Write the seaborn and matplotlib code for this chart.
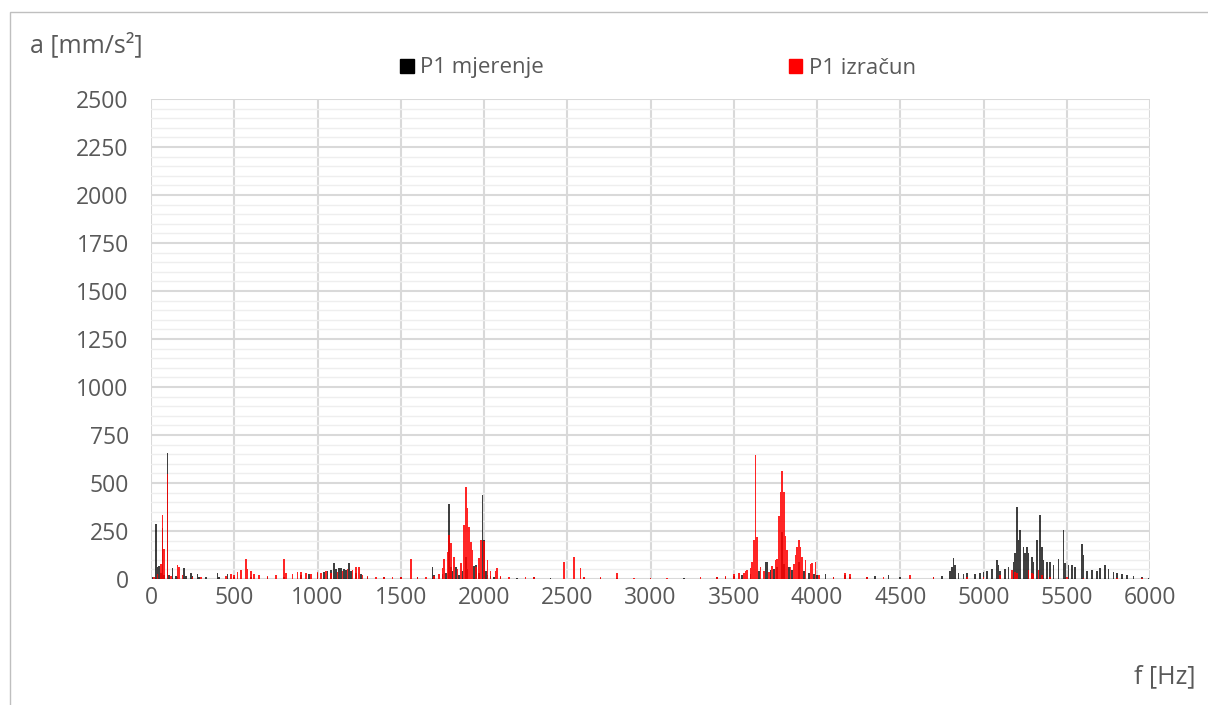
import numpy as np
import seaborn as sns
import matplotlib.pyplot as plt
from matplotlib.patches import Patch, Rectangle

# Frequency [Hz] and amplitude [mm/s2] (10 Hz bins)
freq_mjerenje = [10, 30, 40, 50, 60, 70, 80, 100, 110, 130, 150, 160, 200, 210, 240, 250, 280, 290, 330,
                 400, 410, 460, 500, 600, 700, 800, 900, 950, 1000, 1040, 1060, 1080, 1100, 1110, 1130,
                 1140, 1160, 1170, 1190, 1200, 1230, 1260, 1300, 1400, 1500, 1600, 1690, 1700, 1750,
                 1770, 1790, 1800, 1810, 1830, 1850, 1870, 1890, 1900, 1940, 1950, 1970, 1990, 2000,
                 2010, 2020, 2040, 2060, 2100, 2200, 2300, 2400, 2600, 2700, 2800, 3000, 3200, 3400,
                 3450, 3500, 3550, 3600, 3650, 3690, 3700, 3720, 3740, 3760, 3790, 3800, 3830, 3850,
                 3890, 3920, 3950, 3980, 4000, 4050, 4100, 4170, 4200, 4300, 4350, 4430, 4500, 4700,
                 4750, 4800, 4810, 4820, 4830, 4850, 4880, 4900, 4950, 4980, 5000, 5020, 5050, 5080,
                 5090, 5100, 5130, 5150, 5180, 5190, 5200, 5210, 5220, 5240, 5250, 5260, 5270, 5290,
                 5300, 5320, 5340, 5350, 5360, 5380, 5400, 5420, 5450, 5480, 5490, 5510, 5530, 5550,
                 5590, 5600, 5620, 5650, 5680, 5700, 5730, 5750, 5780, 5800, 5830, 5860, 5900, 5950, 5990]
amp_mjerenje = [10, 286, 60, 68, 30, 265, 20, 655, 20, 57, 15, 10, 55, 15, 33, 15, 26, 10, 8,
                33, 10, 27, 10, 8, 10, 12, 20, 25, 30, 35, 40, 45, 85, 50, 59,
                56, 50, 45, 85, 40, 30, 25, 12, 10, 8, 10, 64, 20, 25,
                30, 391, 60, 40, 60, 20, 40, 116, 50, 70, 73, 30, 439, 203,
                40, 20, 15, 10, 8, 6, 8, 6, 6, 5, 6, 5, 6, 8,
                10, 15, 20, 25, 40, 90, 90, 45, 50, 60, 246, 80, 64, 47,
                90, 40, 30, 25, 20, 26, 12, 20, 10, 12, 15, 20, 10, 8,
                15, 40, 64, 108, 73, 30, 25, 30, 25, 30, 35, 40, 50, 99,
                73, 40, 50, 60, 90, 134, 373, 203, 255, 168, 134, 165, 134, 116,
                90, 203, 333, 168, 99, 90, 90, 73, 103, 255, 82, 73, 73, 64,
                182, 125, 40, 45, 40, 55, 75, 50, 35, 30, 25, 20, 15, 10, 5]

freq_izracun = [20, 40, 60, 70, 80, 100, 120, 160, 170, 190, 250, 300, 450, 480, 500, 520, 540, 570,
                580, 600, 620, 650, 700, 750, 800, 810, 850, 880, 900, 930, 960, 1000, 1020, 1050,
                1080, 1120, 1150, 1180, 1210, 1230, 1250, 1270, 1300, 1350, 1400, 1450, 1500, 1560,
                1600, 1650, 1700, 1730, 1750, 1760, 1780, 1790, 1800, 1820, 1840, 1860, 1880, 1890,
                1900, 1910, 1920, 1930, 1950, 1970, 1980, 2000, 2020, 2040, 2070, 2080, 2100, 2150,
                2250, 2300, 2480, 2540, 2580, 2600, 2700, 2800, 2900, 3000, 3100, 3300, 3400, 3450,
                3500, 3530, 3560, 3570, 3580, 3600, 3610, 3620, 3630, 3640, 3660, 3680, 3710, 3730,
                3750, 3760, 3770, 3780, 3790, 3800, 3810, 3820, 3840, 3860, 3870, 3880, 3890, 3900,
                3910, 3930, 3960, 3970, 3990, 4010, 4100, 4170, 4200, 4300, 4400, 4560, 4700, 4900,
                5000, 5100, 5170, 5190, 5200, 5270, 5290, 5300, 5330, 5350, 5400, 5500, 5600, 5800, 5950]
amp_izracun = [10, 25, 80, 333, 156, 545, 15, 73, 60, 20, 10, 8, 15, 25, 20, 35, 45, 102,
               50, 40, 25, 20, 15, 20, 102, 30, 25, 35, 35, 30, 25, 35, 30, 40,
               30, 35, 40, 50, 45, 60, 64, 20, 15, 12, 10, 12, 10, 102,
               10, 8, 15, 25, 57, 104, 142, 230, 187, 116, 50, 83, 281, 477,
               370, 271, 194, 151, 60, 109, 203, 200, 99, 40, 40, 57, 15, 10,
               12, 8, 87, 113, 57, 10, 8, 31, 6, 5, 6, 8, 12, 15,
               25, 30, 33, 40, 48, 57, 90, 203, 646, 217, 60, 40, 35, 70,
               100, 104, 328, 451, 562, 451, 224, 150, 60, 80, 125, 168, 203, 165,
               116, 100, 80, 85, 90, 20, 10, 30, 26, 10, 8, 20, 8, 10,
               12, 20, 47, 38, 30, 47, 33, 25, 45, 20, 10, 8, 6, 5, 5]

y_ticks = [0, 250, 500, 750, 1000, 1250, 1500, 1750, 2000, 2250, 2500]
x_ticks = [0, 500, 1000, 1500, 2000, 2500, 3000, 3500, 4000, 4500, 5000, 5500, 6000]

sns.set_style("white")
plt.rcParams['font.family'] = ['Open Sans', 'DejaVu Sans']

fig = plt.figure(figsize=(12.08, 7.05), dpi=100)
ax = fig.add_axes([0.125, 0.1787, 0.827, 0.681])

sns.histplot(x=freq_mjerenje, weights=amp_mjerenje, binwidth=10, binrange=(-5, 6005),
             color="black", alpha=0.75, linewidth=0, ax=ax, zorder=3)
sns.histplot(x=freq_izracun, weights=amp_izracun, binwidth=10, binrange=(-5, 6005),
             color="#ff0000", alpha=0.85, linewidth=0, ax=ax, zorder=4)

ax.set_xlim(0, 6000)
ax.set_ylim(0, 2500)
ax.set_xticks(x_ticks)
ax.set_yticks(y_ticks)
ax.set_yticks(np.arange(0, 2501, 50), minor=True)
ax.grid(which="major", color="#d9d9d9", linewidth=1.5, zorder=0)
ax.grid(which="minor", axis="y", color="#eeeeee", linewidth=1, zorder=0)
ax.set_axisbelow(True)
for s in ax.spines.values():
    s.set_visible(False)
ax.tick_params(axis="both", which="both", length=0, labelsize=16.5, colors="#595959")
ax.tick_params(axis="y", pad=16)
ax.tick_params(axis="x", pad=5)
ax.set_xlabel("")
ax.set_ylabel("")

fig.text(30 / 1208, 1 - 45 / 705, "a [mm/s²]", fontsize=18, color="#595959", va="center", ha="left")
fig.text(1195 / 1208, 1 - 677 / 705, "f [Hz]", fontsize=18, color="#595959", va="center", ha="right")

handles = [Patch(color="black", label="P1 mjerenje"), Patch(color="#ff0000", label="P1 izračun")]
fig.legend(handles=handles, loc="center", bbox_to_anchor=(658 / 1208, 1 - 68 / 705), ncol=2,
           frameon=False, fontsize=16, labelcolor="#595959", handlelength=0.6, handleheight=0.6,
           handletextpad=0.3, columnspacing=11.0)

fig.patches.append(Rectangle((10 / 1208, -0.1), 1.1, 1 - 12 / 705 + 0.1, transform=fig.transFigure,
                             fill=False, edgecolor="#bfbfbf", linewidth=1))

fig.savefig("out.png", dpi=100)
